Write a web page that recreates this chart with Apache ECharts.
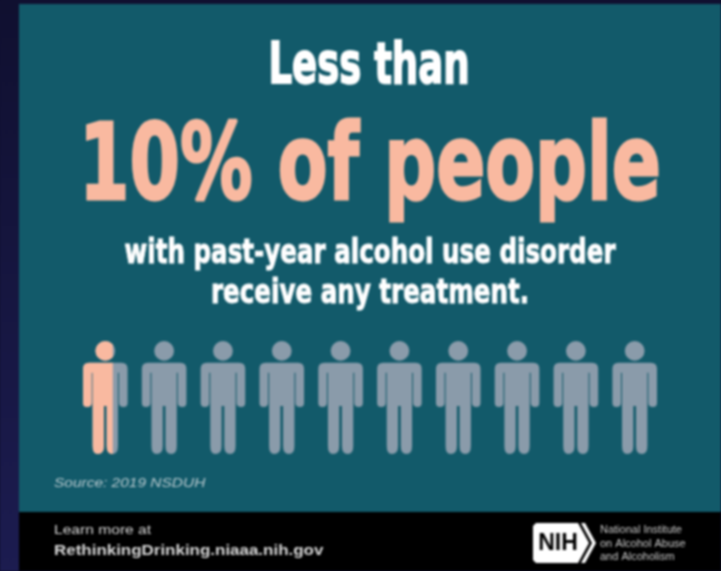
<!DOCTYPE html>
<html><head><meta charset="utf-8">
<style>html,body{margin:0;padding:0;background:#101030}#c{width:721px;height:571px;filter:blur(0.8px)}</style>
<script src="https://cdn.jsdelivr.net/npm/echarts@6/dist/echarts.min.js"></script>
</head><body><div id="c"></div>
<script>
const rowLabels = ['people'];
const totalPeople = [10];
const treatedPeople = [0.52];
const headline = 'Less than';
const bigLine = '10% of people';
const subLine1 = 'with past-year alcohol use disorder';
const subLine2 = 'receive any treatment.';
const sourceText = 'Source: 2019 NSDUH';
const learnText = 'Learn more at';
const urlText = 'RethinkingDrinking.niaaa.nih.gov';
const orgLines = ['National Institute','on Alcohol Abuse','and Alcoholism'];
const heavy = '"DejaVu Sans",sans-serif';
const helv = '"Liberation Sans",Arial,sans-serif';
const person = 'path://M12.2 10a9.8 9.8 0 1 1 19.6 0a9.8 9.8 0 1 1-19.6 0ZM6 22H38Q44 22 44 28V62Q44 66 40 66Q35.5 66 35.5 62V32H34.5V105Q34.5 113 29 113Q23.3 113 23.3 105V65H20.7V105Q20.7 113 14.5 113Q9.5 113 9.5 105V32H8.5V62Q8.5 66 4 66Q0 66 0 62V28Q0 22 6 22Z';
const chart = echarts.init(document.getElementById('c'), null, {renderer:'canvas'});
const shadow = {shadowColor:'rgba(0,20,30,0.55)',shadowBlur:7,shadowOffsetX:3,shadowOffsetY:4};
function pic(data,color,z){return {
  type:'pictorialBar',data,z,symbol:person,symbolSize:[44.6,113],symbolRepeat:10,symbolMargin:14,
  symbolBoundingData:totalPeople[0],symbolClip:true,symbolPosition:'start',barCategoryGap:0,barGap:'-100%',
  itemStyle:{color,opacity:1},silent:true};}
function label(text,x,y,size,scaleX,fill,border){return {type:'text',z:5,x,y,scaleX,style:{text,x:0,y:0,fill,font:'bold '+size+'px '+heavy,align:'center',verticalAlign:'middle',stroke:fill,lineWidth:border,...shadow}};}
function plain(text,x,y,font,scaleX,fill){return {type:'text',z:5,x,y,scaleX,style:{text,x:0,y:0,fill,font,verticalAlign:'middle'}};}
chart.setOption({
  animation:false,
  backgroundColor:'#101030',
  grid:{left:83,right:64,top:341,height:113},
  xAxis:{type:'value',min:0,max:totalPeople[0],show:false},
  yAxis:{type:'category',data:rowLabels,show:false},
  series:[pic(totalPeople,'#8a9baa',3),pic(treatedPeople,'#f9b9a0',4)],
  graphic:[
    {type:'rect',z:0,shape:{x:0,y:0,width:19,height:571},style:{fill:new echarts.graphic.LinearGradient(0,0,0,1,[{offset:0,color:'#101030'},{offset:1,color:'#1c1c50'}])}},
    {type:'rect',z:0,shape:{x:19,y:4,width:702,height:508},style:{fill:'#125a6a'}},
    {type:'rect',z:0,shape:{x:19,y:512,width:702,height:59},style:{fill:'#000'}},
    label(headline,369,68,57,0.65,'#fff',2),
    label(bigLine,370,172,105,0.69,'#f9b9a0',3),
    label(subLine1,370,254,33,0.745,'#fff',1),
    label(subLine2,370,294,33,0.745,'#fff',1),
    plain(sourceText,54,483,'italic 13px '+helv,1.19,'#b8c9ce'),
    plain(learnText,54,530,'13px '+helv,1.2,'#d8d8d8'),
    plain(urlText,54,551,'bold 15px '+helv,1.13,'#d8d8d8'),
    {type:'polygon',z:5,shape:{points:[[536,523],[578,523],[589,543],[578,563],[536,563],[533,560],[533,526]]},style:{fill:'#fff'}},
    {type:'polygon',z:5,shape:{points:[[581,523],[585,523],[596,543],[585,563],[581,563],[592,543]]},style:{fill:'#fff'}},
    {type:'text',z:6,x:558,y:544,style:{text:'NIH',fill:'#000',font:'bold 23px '+helv,align:'center',verticalAlign:'middle'}},
    plain(orgLines[0],600,530,'10px '+helv,1.1,'#c8c8c8'),
    plain(orgLines[1],600,544,'10px '+helv,1.1,'#c8c8c8'),
    plain(orgLines[2],600,557,'10px '+helv,1.1,'#c8c8c8')
  ]
});
</script></body></html>
